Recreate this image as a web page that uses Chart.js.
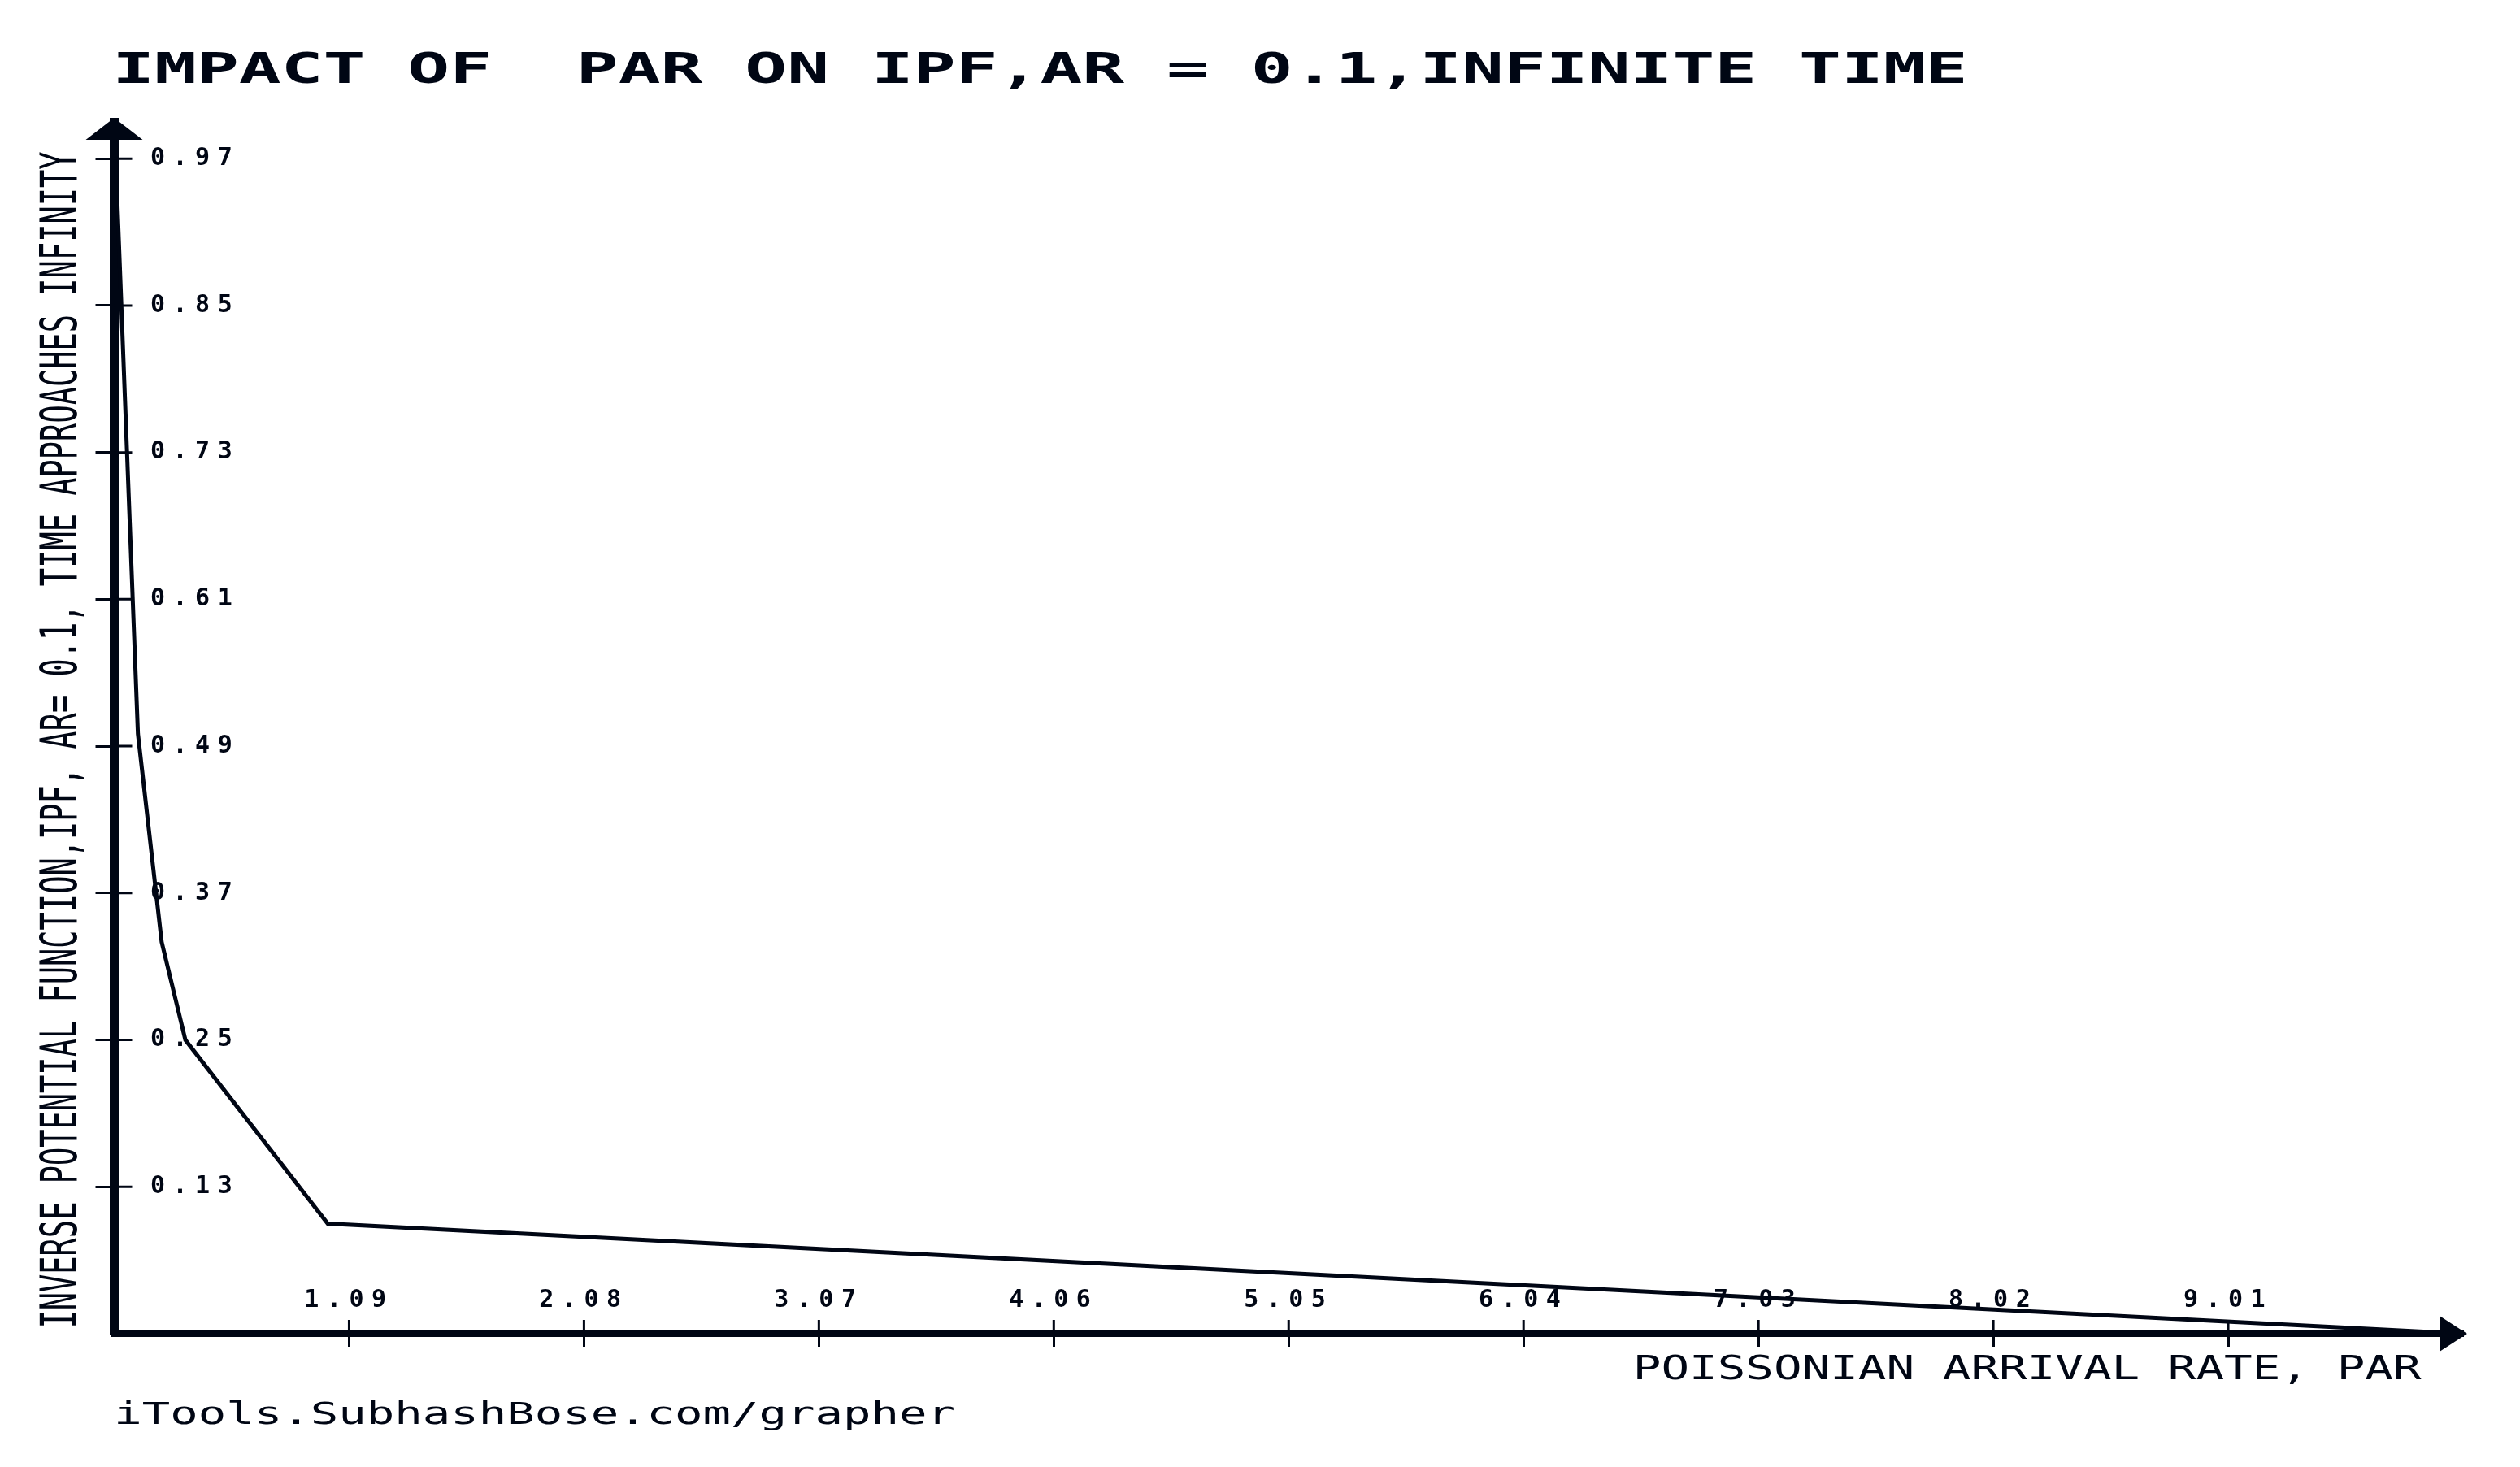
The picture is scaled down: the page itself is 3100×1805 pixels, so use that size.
<!DOCTYPE html>
<html>
<head>
<meta charset="utf-8">
<title>Impact of PAR on IPF</title>
<script src="https://cdn.jsdelivr.net/npm/chart.js@4.4.0/dist/chart.umd.min.js"></script>
<style>
  html, body { margin: 0; padding: 0; background: #fff; }
  canvas { display: block; }
</style>
</head>
<body>
<canvas id="canvas1" width="3100" height="1805"></canvas>
<script>
var par = [0.1, 0.2, 0.3, 0.4, 1, 10];
var ipf = [1.0, 0.5, 0.33, 0.25, 0.1, 0.01];
var xTicks = [1.09, 2.08, 3.07, 4.06, 5.05, 6.04, 7.03, 8.02, 9.01];
var yTicks = [0.13, 0.25, 0.37, 0.49, 0.61, 0.73, 0.85, 0.97];

var titleText = "IMPACT OF  PAR ON IPF,AR = 0.1,INFINITE TIME";
var xTitle = "POISSONIAN ARRIVAL RATE, PAR";
var yTitle = "INVERSE POTENTIAL FUNCTION,IPF, AR= 0.1, TIME APPROACHES INFINITY";
var footer = "iTools.SubhashBose.com/grapher";

var ink = "#000614";
var mono = "'DejaVu Sans Mono', 'Liberation Mono', monospace";

// the grapher uses a wide bitmap font: stretch the text so its ink runs x0..x1
function stretchText(ctx, text, font, x0, x1, baseline) {
    ctx.save();
    ctx.font = font;
    ctx.textAlign = "left";
    ctx.textBaseline = "alphabetic";
    var m = ctx.measureText(text);
    var w = m.actualBoundingBoxLeft + m.actualBoundingBoxRight;
    ctx.translate(x0, baseline);
    ctx.scale((x1 - x0) / w, 1);
    ctx.fillText(text, m.actualBoundingBoxLeft, 0);
    ctx.restore();
}

// wide tick labels
var spacing = {
    id: "spacing",
    beforeDraw: function(chart) { chart.ctx.letterSpacing = "9.5px"; },
    beforeDatasetsDraw: function(chart) { chart.ctx.letterSpacing = "0px"; }
};

var axesExtras = {
    id: "axesExtras",
    afterDraw: function(chart) {
        var ctx = chart.ctx, a = chart.chartArea;
        var xs = chart.scales.x, ys = chart.scales.y;
        ctx.save();
        ctx.strokeStyle = ink;
        ctx.fillStyle = ink;
        ctx.lineWidth = 3;

        // ticks cross the axis into the plot
        ctx.beginPath();
        ys.ticks.forEach(function(t) {
            var y = ys.getPixelForValue(t.value);
            ctx.moveTo(a.left, y);
            ctx.lineTo(a.left + 22, y);
        });
        xs.ticks.forEach(function(t) {
            var x = xs.getPixelForValue(t.value);
            ctx.moveTo(x, a.bottom);
            ctx.lineTo(x, a.bottom - 17);
        });
        ctx.stroke();

        // arrow heads
        ctx.beginPath();
        ctx.moveTo(a.left, a.top - 5);
        ctx.lineTo(a.left - 35, a.top + 22);
        ctx.lineTo(a.left + 35, a.top + 22);
        ctx.closePath();
        ctx.moveTo(a.right + 5, a.bottom);
        ctx.lineTo(a.right - 29, a.bottom - 22);
        ctx.lineTo(a.right - 29, a.bottom + 22);
        ctx.closePath();
        ctx.fill();

        stretchText(ctx, titleText, "bold 51px " + mono, 145, 2416, 102);
        stretchText(ctx, xTitle, "41px " + mono, 2013, 2979, 1697);
        stretchText(ctx, footer, "37px " + mono, 145, 1173, 1752);

        ctx.save();
        ctx.translate(94, 1631);
        ctx.rotate(-Math.PI / 2);
        stretchText(ctx, yTitle, "63px " + mono, 0, 1444, 0);
        ctx.restore();

        ctx.restore();
    }
};

var tickFont = { family: mono, weight: "bold", size: 30 };

new Chart(document.getElementById("canvas1"), {
    type: "line",
    data: {
        datasets: [{
            data: par.map(function(x, i) { return { x: x, y: ipf[i] }; }),
            borderColor: ink,
            borderWidth: 5,
            pointRadius: 0,
            tension: 0,
            fill: false
        }]
    },
    options: {
        responsive: false,
        animation: false,
        devicePixelRatio: 1,
        layout: { padding: { left: 117.5, right: 70, top: 150, bottom: 164 } },
        plugins: {
            legend: { display: false },
            tooltip: { enabled: false }
        },
        scales: {
            x: {
                type: "linear",
                min: 0.1,
                max: 10,
                afterBuildTicks: function(s) {
                    s.ticks = xTicks.map(function(v) { return { value: v }; });
                },
                afterFit: function(s) {
                    s.paddingLeft = 0;
                    s.paddingRight = 0;
                },
                grid: { drawOnChartArea: false, tickLength: 16, tickWidth: 3, tickColor: ink },
                border: { color: ink, width: 8 },
                ticks: {
                    color: ink,
                    autoSkip: false,
                    maxRotation: 0,
                    padding: -102,
                    font: { family: mono, weight: "bold", size: 30, lineHeight: "90px" },
                    callback: function(v) { return v.toFixed(2); }
                }
            },
            y: {
                type: "linear",
                min: 0.01,
                max: 1.0,
                afterBuildTicks: function(s) {
                    s.ticks = yTicks.map(function(v) { return { value: v }; });
                },
                afterFit: function(s) {
                    s.width = 23;
                },
                grid: { drawOnChartArea: false, tickLength: 23, tickWidth: 3, tickColor: ink },
                border: { color: ink, width: 11 },
                ticks: {
                    color: ink,
                    mirror: true,
                    padding: 44.5,
                    font: tickFont,
                    callback: function(v) { return v.toFixed(2); }
                }
            }
        }
    },
    plugins: [spacing, axesExtras]
});
</script>
</body>
</html>
